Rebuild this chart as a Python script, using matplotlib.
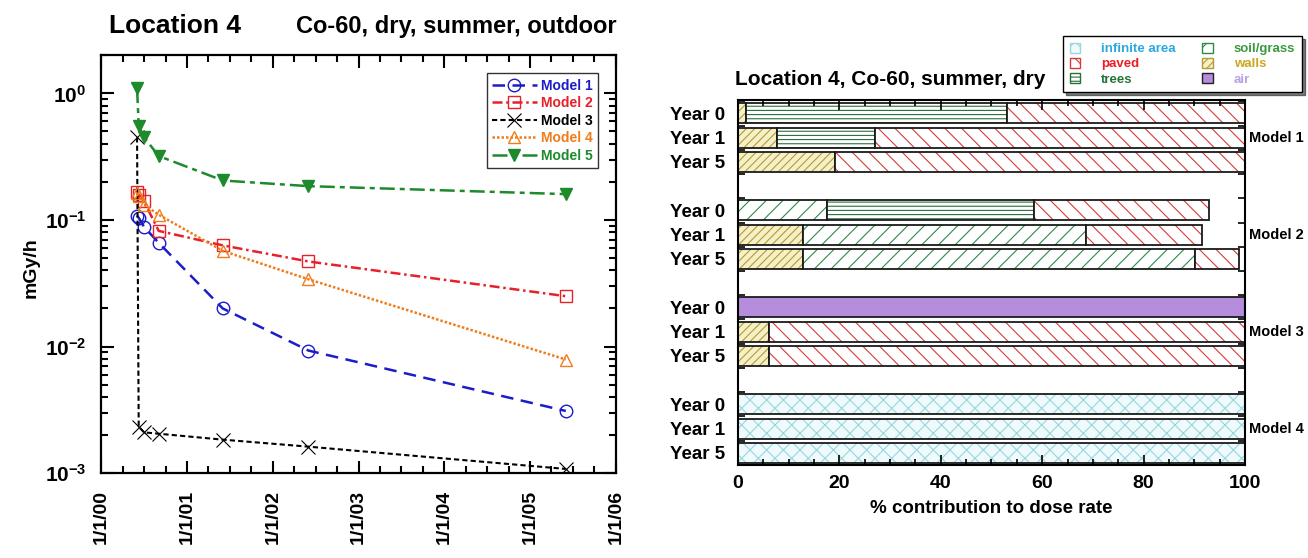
import datetime as dt
import numpy as np
import matplotlib
matplotlib.use("Agg")
import matplotlib.pyplot as plt
import matplotlib.dates as mdates
import matplotlib.ticker as ticker
from matplotlib.patches import Patch

plt.rcParams['font.family'] = 'Liberation Sans'
plt.rcParams['font.weight'] = 'bold'
plt.rcParams['axes.labelweight'] = 'bold'
plt.rcParams['mathtext.fontset'] = 'custom'
plt.rcParams['mathtext.rm'] = 'Liberation Sans:bold'
plt.rcParams['mathtext.it'] = 'Liberation Sans:bold'
plt.rcParams['mathtext.bf'] = 'Liberation Sans:bold'
plt.rcParams['mathtext.default'] = 'rm'
plt.rcParams['hatch.linewidth'] = 0.8

## left panel: dose rate (mGy/h) at sample dates
dates = ["2000-06-01", "2000-06-08", "2000-07-01", "2000-09-01",
         "2001-06-01", "2002-06-01", "2005-06-01"]
model1 = [0.108, 0.104, 0.088, 0.066, 0.020, 0.0093, 0.0031]
model2 = [0.165, 0.158, 0.140, 0.082, 0.063, 0.047, 0.025]
model3 = [0.45, 0.00233, 0.0021, 0.00205, 0.00184, 0.00162, 0.00108]
model4 = [0.162, 0.155, 0.132, 0.110, 0.057, 0.034, 0.0079]
model5 = [1.10, 0.55, 0.45, 0.32, 0.205, 0.185, 0.160]

## right panel: % contribution to dose rate
groups = ["Model 1", "Model 2", "Model 3", "Model 4"]
years = ["Year 0", "Year 1", "Year 5"]
# order: Model1 Y0,Y1,Y5, Model2 Y0,Y1,Y5, ...
walls = [1.6, 7.6, 19.1, 0, 12.8, 12.8, 0, 6.1, 6.1, 0, 0, 0]
soil = [0, 0, 0, 17.6, 55.8, 77.3, 0, 0, 0, 0, 0, 0]
trees = [51.4, 19.4, 0, 40.8, 0, 0, 0, 0, 0, 0, 0, 0]
paved = [47.0, 73.0, 80.9, 34.6, 22.9, 8.7, 0, 93.9, 93.9, 0, 0, 0]
air = [0, 0, 0, 0, 0, 0, 100, 0, 0, 0, 0, 0]
infinite = [0, 0, 0, 0, 0, 0, 0, 0, 0, 100, 100, 100]


def yearfmt(x, pos):
    d = mdates.num2date(x)
    return "%d/%d/%s" % (d.month, d.day, d.strftime("%y"))


def powfmt(v, pos):
    return r"$10^{%d}$" % int(round(np.log10(v)))


fig = plt.figure(figsize=(13.08, 5.58), dpi=100)

# ---------------- left plot ----------------
ax = fig.add_axes([0.0775, 0.152, 0.3935, 0.749])
t = [dt.datetime.strptime(s, "%Y-%m-%d") for s in dates]

ax.plot(t, model1, color='#1c1cc8', lw=1.8, dashes=(5, 3), marker='o', ms=9,
        mfc='none', mec='#1c1cc8', mew=1.0, label='Model 1')
ax.plot(t, model2, color='#e8202a', lw=1.8, dashes=(4, 1.5, 1, 1.5), marker='s', ms=9,
        mfc='none', mec='#e8202a', mew=1.0, label='Model 2')
ax.plot(t, model3, color='black', lw=1.5, dashes=(2.5, 1.5), marker='x', ms=10,
        mew=0.8, label='Model 3')
ax.plot(t, model4, color='#f07d1c', lw=1.8, dashes=(1, 0.8), marker='^', ms=9,
        mfc='none', mec='#f07d1c', mew=1.0, label='Model 4')
ax.plot(t, model5, color='#1d8a2c', lw=1.8, dashes=(6, 2, 2, 2), marker='v', ms=9,
        mfc='#1d8a2c', mec='#1d8a2c', label='Model 5')

ax.set_yscale('log')
ax.set_ylim(1e-3, 2.0)
ax.set_xlim(dt.datetime(2000, 1, 1), dt.datetime(2006, 1, 1))
ax.xaxis.set_major_locator(mdates.YearLocator())
ax.xaxis.set_minor_locator(mdates.MonthLocator(bymonth=[4, 7, 10]))
ax.xaxis.set_major_formatter(ticker.FuncFormatter(yearfmt))
ax.yaxis.set_major_locator(ticker.LogLocator(base=10))
ax.yaxis.set_minor_locator(ticker.LogLocator(base=10, subs=np.arange(2, 10)))
ax.yaxis.set_major_formatter(ticker.FuncFormatter(powfmt))
ax.yaxis.set_minor_formatter(ticker.NullFormatter())
ax.tick_params(which='both', direction='in', top=True, right=True, width=1.5)
ax.tick_params(which='major', length=9)
ax.tick_params(which='minor', length=5)
ax.tick_params(axis='y', labelsize=15, pad=11)
ax.tick_params(axis='x', labelsize=14, pad=12, labelrotation=90)
for s in ax.spines.values():
    s.set_linewidth(1.6)

leg = ax.legend(loc='upper right', bbox_to_anchor=(0.965, 0.957), fontsize=10,
                frameon=True, fancybox=False, handlelength=3.2, handletextpad=0.3,
                borderpad=0.4, labelspacing=0.25, borderaxespad=0,
                labelcolor=['#1c1cc8', '#e8202a', 'black', '#f07d1c', '#1d8a2c'])
leg.get_frame().set_edgecolor('black')
leg.get_frame().set_linewidth(1.0)

fig.text(0.0833, 0.941, "Location 4", fontsize=19, va='baseline', ha='left')
fig.text(0.4717, 0.941, "Co-60, dry, summer, outdoor", fontsize=17, va='baseline', ha='right')
fig.text(0.024, 0.52, "mGy/h", fontsize=14, rotation=90, va='center', ha='center')

# ---------------- right plot ----------------
ax2 = fig.add_axes([0.5642, 0.1667, 0.3876, 0.654])
pos = []
for g in range(len(groups)):
    for k in range(len(years)):
        pos.append(g * 4 + k)
pos = np.array(pos)

styles = [
    ("walls", walls, '#f6f0c6', '////', '#b39a3a'),
    ("soil/grass", soil, 'white', '//', '#2f8a4a'),
    ("trees", trees, 'white', '----', '#2a6e3c'),
    ("paved", paved, 'white', '\\\\', '#d83a3a'),
    ("air", air, '#b68cdc', '', '#b68cdc'),
    ("infinite area", infinite, '#eefafb', 'xx', '#9ad6dc'),
]
h = 0.82
cum = np.zeros(len(pos))
for name, vals, face, hatch, hcol in styles:
    vals = np.array(vals, dtype=float)
    m = vals > 0
    ax2.barh(pos[m], vals[m], left=cum[m], height=h, color=face, hatch=hatch,
             edgecolor=hcol, linewidth=0)
    ax2.barh(pos[m], vals[m], left=cum[m], height=h, fill=False,
             edgecolor='#1a1a1a', linewidth=1.3)
    cum = cum + vals

ax2.set_xlim(0, 100)
ax2.set_ylim(14.45, -0.55)
ax2.set_yticks(pos)
ax2.set_yticklabels(years * len(groups))
ax2.set_yticks(np.arange(-0.5, 14.6, 1.0), minor=True)
ax2.xaxis.set_major_locator(ticker.MultipleLocator(20))
ax2.xaxis.set_minor_locator(ticker.MultipleLocator(5))
ax2.tick_params(axis='y', which='major', length=0, labelsize=13.5, pad=9)
ax2.tick_params(axis='y', which='minor', direction='in', left=True, right=True, length=5, width=1.2)
ax2.tick_params(axis='x', which='both', direction='in', top=True, width=1.2, labelsize=14, pad=7)
ax2.tick_params(axis='x', which='major', length=7)
ax2.tick_params(axis='x', which='minor', length=4)
ax2.set_xlabel("% contribution to dose rate", fontsize=13.5, labelpad=6)
for s in ax2.spines.values():
    s.set_linewidth(1.5)

for g, name in enumerate(groups):
    ax2.text(1.007, g * 4 + 1, name, transform=ax2.get_yaxis_transform(),
             fontsize=10.5, va='center', ha='left')

fig.text(0.5619, 0.848, "Location 4, Co-60, summer, dry", fontsize=15, va='baseline', ha='left')

leg_handles = []
leg_colors = []
order = [("infinite area", '#2aa9e0'), ("paved", '#ee1c24'), ("trees", '#26743a'),
         ("soil/grass", '#3a9a40'), ("walls", '#c9a820'), ("air", '#b9a2e2')]
for name, tcol in order:
    for sname, vals, face, hatch, hcol in styles:
        if sname == name:
            leg_handles.append(Patch(facecolor=face, hatch=hatch, edgecolor=hcol if hatch else '#222', label=name))
    leg_colors.append(tcol)
leg2 = fig.legend(handles=leg_handles, ncol=2, loc='upper right', bbox_to_anchor=(0.9954, 0.9355),
                  fontsize=9.5, frameon=True, fancybox=False, shadow={'color': 'black'},
                  handlelength=0.8, handleheight=0.8, handletextpad=1.6, columnspacing=2.0,
                  labelspacing=0.2, borderpad=0.5, borderaxespad=0, labelcolor=leg_colors)
leg2.get_frame().set_edgecolor('black')
leg2.get_frame().set_linewidth(1.0)

fig.savefig("out.png", dpi=100)
